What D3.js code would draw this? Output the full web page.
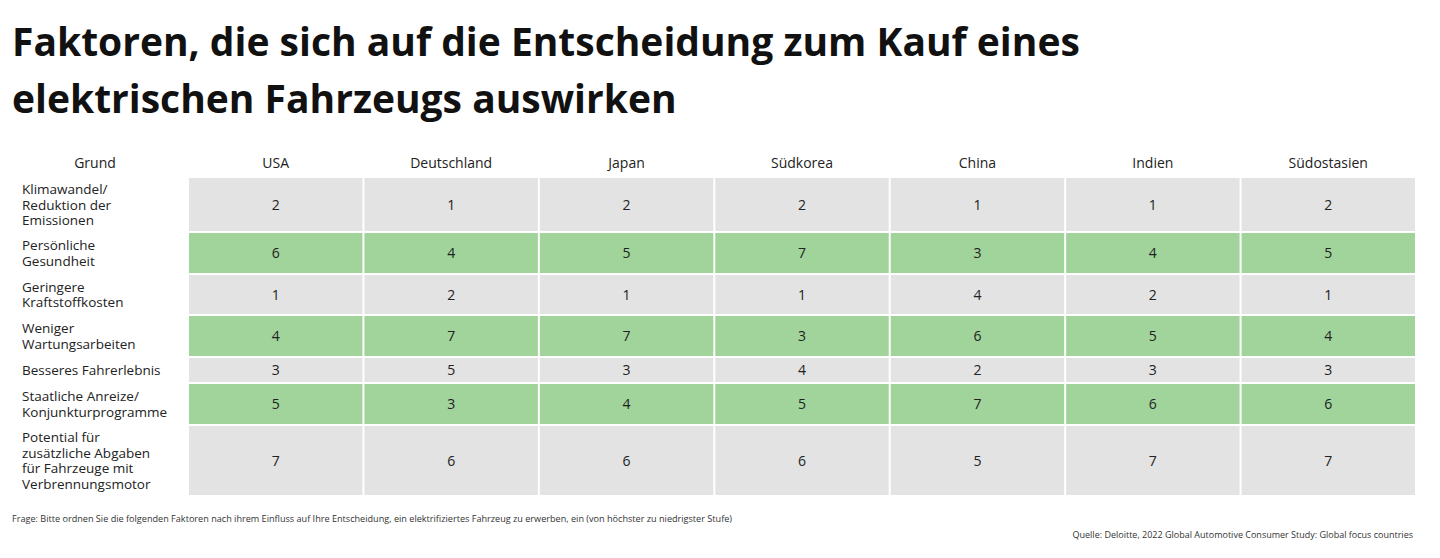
<!DOCTYPE html>
<html>
<head>
  <script src="https://cdn.jsdelivr.net/npm/d3@7"></script>
  <style>
    body { margin: 0; background: white; font-family: 'Open Sans', sans-serif; }
  </style>
</head>
<body>
  <script>
    const countries = ['USA', 'Deutschland', 'Japan', 'Südkorea', 'China', 'Indien', 'Südostasien']
    const reasons = [
      ['Klimawandel/', 'Reduktion der', 'Emissionen'],
      ['Persönliche', 'Gesundheit'],
      ['Geringere', 'Kraftstoffkosten'],
      ['Weniger', 'Wartungsarbeiten'],
      ['Besseres Fahrerlebnis'],
      ['Staatliche Anreize/', 'Konjunkturprogramme'],
      ['Potential für', 'zusätzliche Abgaben', 'für Fahrzeuge mit', 'Verbrennungsmotor']
    ]
    const ranks = [
      [2, 1, 2, 2, 1, 1, 2],
      [6, 4, 5, 7, 3, 4, 5],
      [1, 2, 1, 1, 4, 2, 1],
      [4, 7, 7, 3, 6, 5, 4],
      [3, 5, 3, 4, 2, 3, 3],
      [5, 3, 4, 5, 7, 6, 6],
      [7, 6, 6, 6, 5, 7, 7]
    ]
    // row boundaries (top of each row), last value = bottom of table
    const rowEdges = [177, 232, 274, 315, 357, 383, 425, 496]

    const svg = d3.select('body').append('svg').attr('width', 1440).attr('height', 558)

    svg.append('text').attr('x', 12).attr('y', 56)
      .attr('font-size', 39).attr('font-weight', 700).attr('fill', '#111')
      .text('Faktoren, die sich auf die Entscheidung zum Kauf eines')
    svg.append('text').attr('x', 12).attr('y', 113)
      .attr('font-size', 39).attr('font-weight', 700).attr('fill', '#111')
      .text('elektrischen Fahrzeugs auswirken')

    const x = d3.scaleBand().domain(countries).range([188, 1416])

    svg.append('text').attr('x', 95).attr('y', 168).attr('text-anchor', 'middle')
      .attr('font-size', 14).attr('fill', '#222').text('Grund')
    svg.selectAll('.colhead').data(countries).join('text')
      .attr('x', d => x(d) + x.bandwidth() / 2).attr('y', 168)
      .attr('text-anchor', 'middle').attr('font-size', 14).attr('fill', '#222')
      .text(d => d)

    ranks.forEach((row, i) => {
      const y0 = rowEdges[i], y1 = rowEdges[i + 1]
      const fill = i % 2 === 1 ? '#a0d49b' : '#e3e3e3'
      svg.selectAll('.c' + i).data(row).join('rect')
        .attr('x', (d, j) => x(countries[j]) + 1)
        .attr('y', y0 + 1)
        .attr('width', x.bandwidth() - 2)
        .attr('height', y1 - y0 - 2)
        .attr('fill', fill)
      svg.selectAll('.v' + i).data(row).join('text')
        .attr('x', (d, j) => x(countries[j]) + x.bandwidth() / 2)
        .attr('y', (y0 + y1) / 2 + 5)
        .attr('text-anchor', 'middle').attr('font-size', 14).attr('fill', '#222')
        .text(d => d)
      const lines = reasons[i]
      const lh = 15.5
      const start = (y0 + y1) / 2 - (lines.length - 1) * lh / 2 + 5
      const t = svg.append('text').attr('font-size', 13.5).attr('fill', '#222')
      lines.forEach((l, k) => {
        t.append('tspan').attr('x', 22).attr('y', start + k * lh).text(l)
      })
    })

    svg.append('text').attr('x', 12).attr('y', 522).attr('font-size', 9).attr('fill', '#333')
      .attr('textLength', 720).attr('lengthAdjust', 'spacingAndGlyphs')
      .text('Frage: Bitte ordnen Sie die folgenden Faktoren nach ihrem Einfluss auf Ihre Entscheidung, ein elektrifiziertes Fahrzeug zu erwerben, ein (von höchster zu niedrigster Stufe)')
    svg.append('text').attr('x', 1413).attr('y', 538).attr('text-anchor', 'end')
      .attr('font-size', 9).attr('fill', '#333')
      .text('Quelle: Deloitte, 2022 Global Automotive Consumer Study: Global focus countries')
  </script>
</body>
</html>
